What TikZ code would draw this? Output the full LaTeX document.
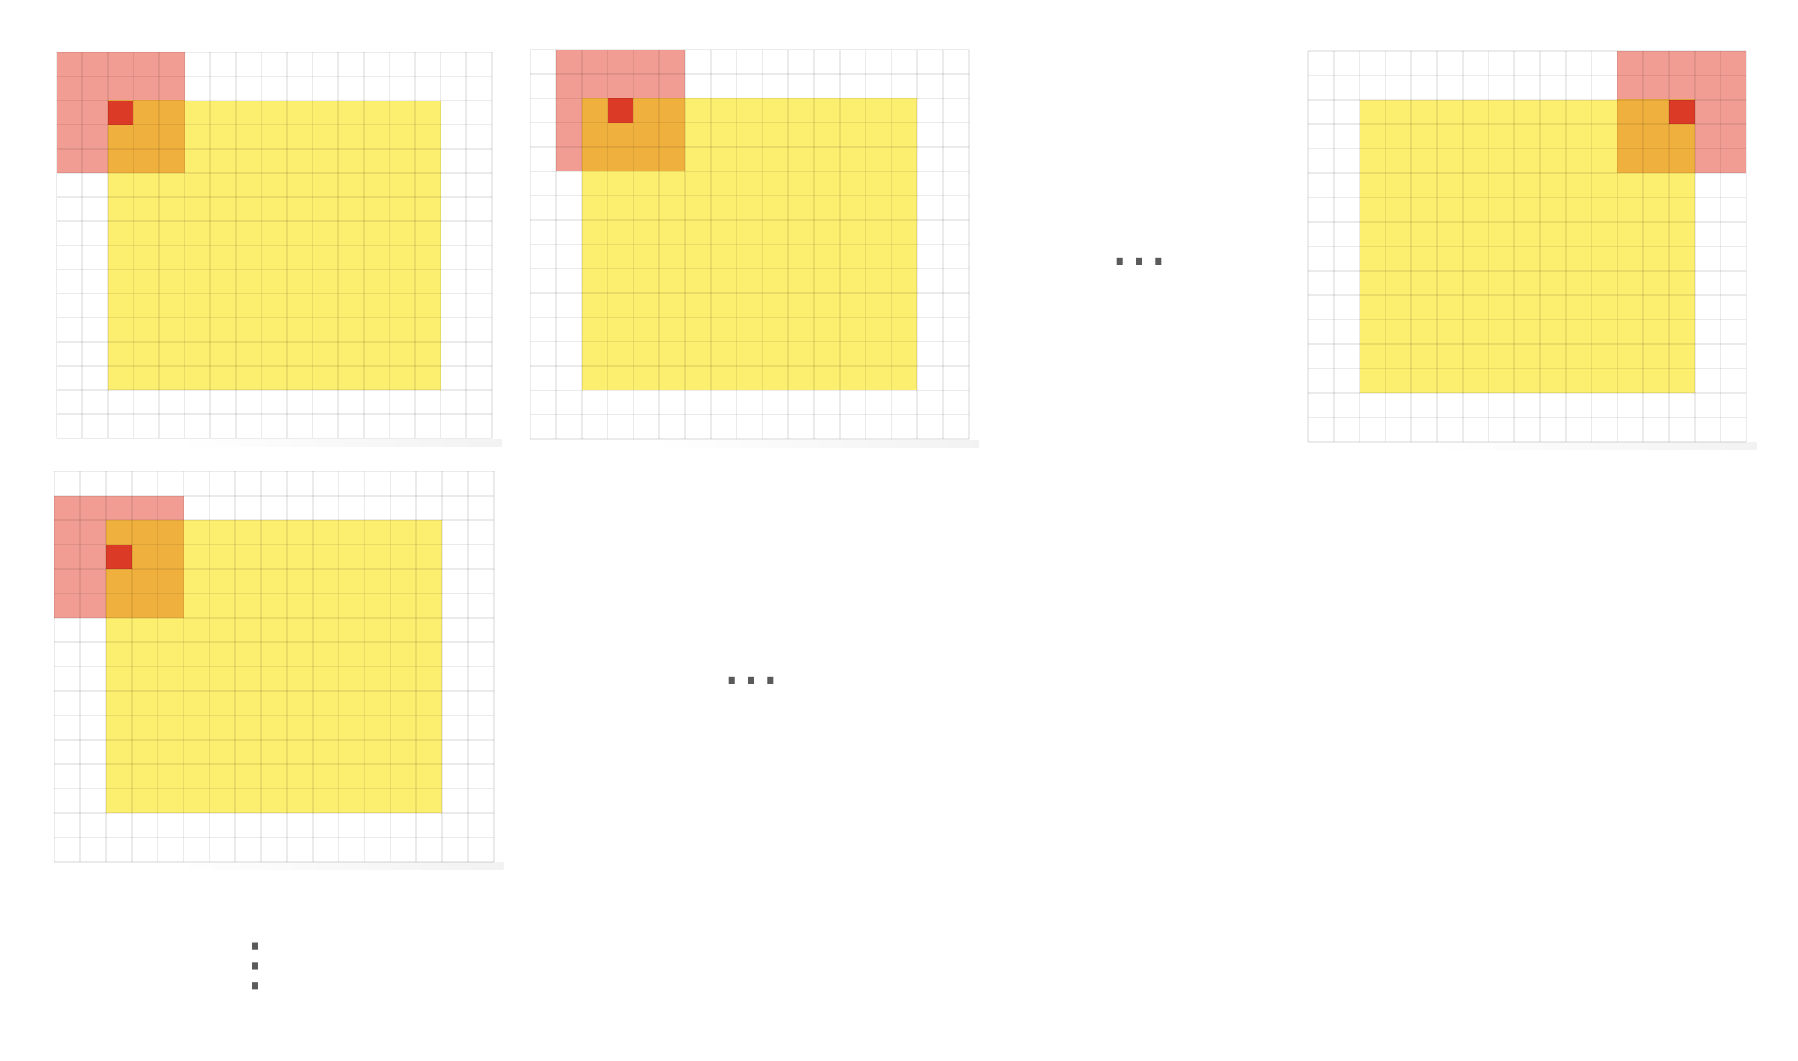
\documentclass[tikz,border=0pt]{standalone}
\usepackage{fontspec}
\newfontfamily\dotsfont{DejaVu Sans}
\definecolor{pinkc}{HTML}{F29D93}
\definecolor{orangec}{HTML}{F0B03D}
\definecolor{yellowc}{HTML}{FCEE6F}
\definecolor{redc}{HTML}{DB3A26}
\definecolor{dotc}{HTML}{5A5A5A}
\tikzset{
  gridline/.style={draw=black, draw opacity=0.08, line width=0.45pt},
  dotsnode/.style={inner sep=0pt, text=dotc, font=\dotsfont\fontsize{16.5}{16.5}\selectfont}
}
% #1 left, #2 top, #3 width, #4 height, #5 kernel col, #6 kernel row
\newcommand\convgrid[6]{%
  \shade[left color=white, right color=black!5] (#1+120,#2+#4+1) rectangle (#1+#3+10,#2+#4+8);
  \begin{scope}[shift={(#1,#2)}, xscale=#3/17, yscale=#4/16]
    \fill[white] (0,0) rectangle (17,16);
    \fill[yellowc] (2,2) rectangle (15,14);
    \fill[pinkc] (#5,#6) rectangle ++(5,5);
    \begin{scope}
      \clip (2,2) rectangle (15,14);
      \fill[orangec] (#5,#6) rectangle ++(5,5);
    \end{scope}
    \fill[redc] (#5+2,#6+2) rectangle ++(1,1);
    \foreach \i in {0,...,17} \draw[gridline] (\i,0) -- (\i,16);
    \foreach \j in {0,...,16} \draw[gridline] (0,\j) -- (17,\j);
  \end{scope}
}
\begin{document}
\begin{tikzpicture}[x=0.01cm, y=-0.01cm]
  \useasboundingbox (0,0) rectangle (1798,1060);
  \convgrid{56.7}{52.3}{435}{386}{0}{0}
  \convgrid{530.3}{49.7}{438.4}{389.3}{1}{0}
  \convgrid{1308}{51}{438.3}{390.7}{12}{0}
  \convgrid{54.3}{471.3}{439.4}{390.4}{0}{1}
  \node[dotsnode] (d1) at (1139,262.3) {…};
  \node[dotsnode] (d2) at (751,681) {…};
  \node[dotsnode] (d3) at (256,966.6) {⋮};
\end{tikzpicture}
\end{document}
